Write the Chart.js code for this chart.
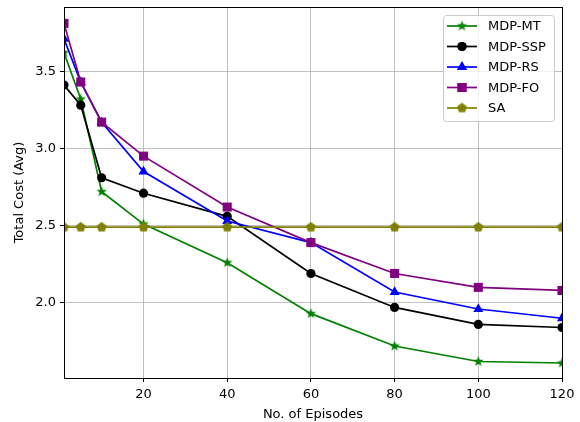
<!DOCTYPE html>
<html>
<head>
<meta charset="utf-8">
<script src="https://cdn.jsdelivr.net/npm/chart.js@4"></script>
<style>
  html, body { margin: 0; padding: 0; background: #fff; }
  #wrap { width: 580px; height: 422px; }
</style>
</head>
<body>
<div id="wrap"><canvas id="myChart" width="580" height="422"></canvas></div>
<script>
const episodes = [1, 5, 10, 20, 40, 60, 80, 100, 120];
const mdpMT  = [3.62, 3.32, 2.72, 2.51, 2.26, 1.93, 1.72, 1.62, 1.61];
const mdpSSP = [3.41, 3.28, 2.81, 2.71, 2.56, 2.19, 1.97, 1.86, 1.84];
const mdpRS  = [3.71, 3.43, 3.17, 2.85, 2.53, 2.39, 2.07, 1.96, 1.90];
const mdpFO  = [3.81, 3.43, 3.17, 2.95, 2.62, 2.39, 2.19, 2.10, 2.08];
const sa     = [2.49, 2.49, 2.49, 2.49, 2.49, 2.49, 2.49, 2.49, 2.49];
const xTicks = [20, 40, 60, 80, 100, 120];
const yTicks = [2.0, 2.5, 3.0, 3.5];
const seriesNames = ['MDP-MT', 'MDP-SSP', 'MDP-RS', 'MDP-FO', 'SA'];
const seriesColors = ['#008000', '#000000', '#0000ff', '#800080', '#808000'];

const FONT = '"DejaVu Sans", sans-serif';

// marker images for star and pentagon
function polyMarker(color, n, outer, inner) {
  const c = document.createElement('canvas');
  const s = Math.ceil(outer * 2 + 2);
  c.width = s; c.height = s;
  const g = c.getContext('2d');
  g.fillStyle = color;
  g.beginPath();
  const pts = inner ? n * 2 : n;
  for (let i = 0; i < pts; i++) {
    const r = inner ? (i % 2 === 0 ? outer : inner) : outer;
    const a = -Math.PI / 2 + i * Math.PI * 2 / pts;
    const px = s / 2 + r * Math.cos(a), py = s / 2 + r * Math.sin(a);
    if (i === 0) g.moveTo(px, py); else g.lineTo(px, py);
  }
  g.closePath();
  g.fill();
  return c;
}
const starImg = polyMarker('#008000', 5, 5.5, 2.3);
const pentImg = polyMarker('#808000', 5, 5.2, 0);

function pts(ys) { return episodes.map((x, i) => ({x: x, y: ys[i]})); }

const markers = [
  {style: starImg, r: 5},
  {style: 'circle', r: 4.6},
  {style: 'triangle', r: 5.8},
  {style: 'rect', r: 6.4},
  {style: pentImg, r: 5}
];
const allData = [mdpMT, mdpSSP, mdpRS, mdpFO, sa];

const datasets = allData.map((d, i) => ({
  label: seriesNames[i],
  data: pts(d),
  borderColor: seriesColors[i],
  backgroundColor: seriesColors[i],
  borderWidth: 1.7,
  pointStyle: markers[i].style,
  pointRadius: markers[i].r,
  pointBorderWidth: 0,
  pointBackgroundColor: seriesColors[i],
  tension: 0,
  fill: false,
  order: 5 - i
}));

const framePlugin = {
  id: 'frame',
  afterDatasetsDraw(chart) {
    const {ctx, chartArea: a} = chart;
    ctx.save();
    ctx.strokeStyle = '#000';
    ctx.lineWidth = 1;
    ctx.strokeRect(a.left + 0.5, a.top + 0.5, a.right - a.left, a.bottom - a.top);
    ctx.restore();
  },
  afterDraw(chart) {
    const {ctx} = chart;
    // legend box
    const bx = 443, by = 15, bw = 111, bh = 106, rad = 3;
    ctx.save();
    ctx.fillStyle = 'rgba(255,255,255,0.8)';
    ctx.strokeStyle = '#cccccc';
    ctx.lineWidth = 1;
    ctx.beginPath();
    ctx.roundRect(bx + 0.5, by + 0.5, bw, bh, rad);
    ctx.fill();
    ctx.stroke();
    ctx.font = '13px ' + FONT;
    ctx.textBaseline = 'middle';
    for (let i = 0; i < seriesNames.length; i++) {
      const y = 26 + i * 20.5;
      ctx.strokeStyle = seriesColors[i];
      ctx.lineWidth = 1.7;
      ctx.beginPath();
      ctx.moveTo(447, y);
      ctx.lineTo(477, y);
      ctx.stroke();
      const m = markers[i];
      if (typeof m.style === 'string') {
        ctx.fillStyle = seriesColors[i];
        Chart.helpers.drawPoint(ctx, {pointStyle: m.style, radius: m.r, borderWidth: 0}, 462, y);
        ctx.fill();
      } else {
        ctx.drawImage(m.style, 462 - m.style.width / 2, y - m.style.height / 2);
      }
      ctx.fillStyle = '#000';
      ctx.fillText(seriesNames[i], 488, y + 1);
    }
    ctx.restore();
  }
};

const config = {
  type: 'line',
  data: {datasets: datasets},
  options: {
    responsive: false,
    animation: false,
    layout: {padding: {left: 0, top: 7, right: 18, bottom: 0}},
    plugins: {
      legend: {display: false},
      tooltip: {enabled: false}
    },
    scales: {
      x: {
        type: 'linear',
        min: 1,
        max: 120,
        afterBuildTicks(scale) { scale.ticks = xTicks.map(v => ({value: v})); },
        afterFit(scale) { scale.height = 44; scale.paddingLeft = 0; scale.paddingRight = 0; },
        border: {display: false},
        grid: {color: '#b0b0b0', lineWidth: 0.8, tickLength: 4, tickColor: '#000', tickWidth: 1},
        ticks: {color: '#000', font: {family: FONT, size: 13}, padding: 5, maxRotation: 0},
        title: {display: true, text: 'No. of Episodes', color: '#000', font: {family: FONT, size: 13}, padding: {top: 0, bottom: 0}}
      },
      y: {
        min: 1.513,
        max: 3.916,
        afterBuildTicks(scale) { scale.ticks = yTicks.map(v => ({value: v})); },
        afterFit(scale) { scale.width = 64; scale.paddingTop = 0; scale.paddingBottom = 0; },
        border: {display: false},
        grid: {color: '#b0b0b0', lineWidth: 0.8, tickLength: 4, tickColor: '#000', tickWidth: 1},
        ticks: {color: '#000', font: {family: FONT, size: 13}, padding: 4,
          callback: v => v.toFixed(1)},
        title: {display: true, text: 'Total Cost (Avg)', color: '#000', font: {family: FONT, size: 13}, padding: {top: 12, bottom: 0}}
      }
    }
  },
  plugins: [framePlugin]
};

const myChart = new Chart(document.getElementById('myChart').getContext('2d'), config);
</script>
</body>
</html>
